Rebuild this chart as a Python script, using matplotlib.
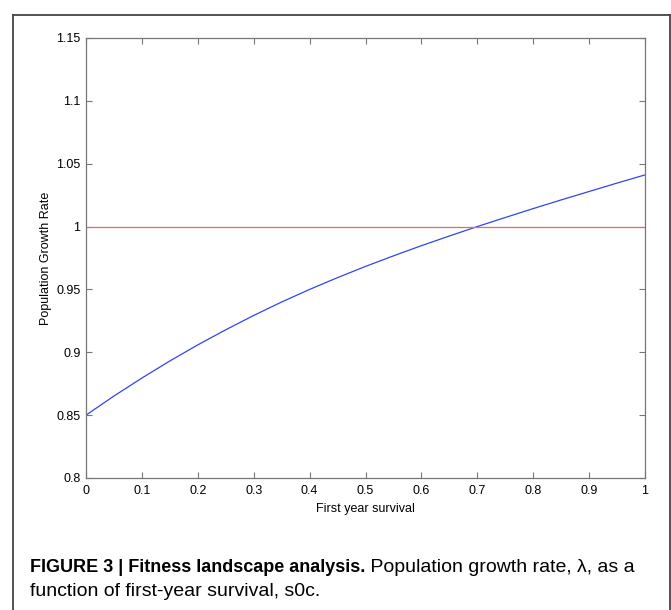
import matplotlib
matplotlib.use("Agg")
import matplotlib.pyplot as plt
from matplotlib.lines import Line2D

# first year survival vs population growth rate
survival = [0.0, 0.05, 0.1, 0.15, 0.2, 0.25, 0.3, 0.35, 0.4, 0.45, 0.5,
            0.55, 0.6, 0.65, 0.7, 0.75, 0.8, 0.85, 0.9, 0.95, 1.0]
growth = [0.8500, 0.8652, 0.8795, 0.8931, 0.9059, 0.9179, 0.9293, 0.9400, 0.9500, 0.9594, 0.9683,
          0.9767, 0.9848, 0.9925, 1.0000, 1.0072, 1.0143, 1.0212, 1.0279, 1.0346, 1.0411]
threshold = 1.0

x_ticks = [0, 0.1, 0.2, 0.3, 0.4, 0.5, 0.6, 0.7, 0.8, 0.9, 1]
x_tick_labels = ['0', '0.1', '0.2', '0.3', '0.4', '0.5', '0.6', '0.7', '0.8', '0.9', '1']
y_ticks = [0.8, 0.85, 0.9, 0.95, 1.0, 1.05, 1.1, 1.15]
y_tick_labels = ['0.8', '0.85', '0.9', '0.95', '1', '1.05', '1.1', '1.15']

caption_bold = 'FIGURE 3 | Fitness landscape analysis.'
caption_rest = ' Population growth rate, λ, as a'
caption_line2 = 'function of first-year survival, s0c.'

plt.rcParams['font.family'] = ['Liberation Sans', 'DejaVu Sans']

W, H = 671, 610
fig = plt.figure(figsize=(W / 100, H / 100), dpi=100)
ax = fig.add_axes([86 / W, 1 - 478 / H, 559 / W, 440 / H])

ax.plot(survival, growth, color='#3344ee', lw=0.9)
ax.plot([0, 1], [threshold, threshold], color='#ee6666', lw=0.9)

ax.set_xlim(0, 1)
ax.set_ylim(0.8, 1.15)
ax.set_xticks(x_ticks)
ax.set_xticklabels(x_tick_labels)
ax.set_yticks(y_ticks)
ax.set_yticklabels(y_tick_labels)
ax.tick_params(direction='in', length=4, width=0.8, color='#777777',
               labelsize=9, top=True, right=True, pad=4)
ax.tick_params(axis='x', pad=5)
for s in ax.spines.values():
    s.set_color('#777777')
    s.set_linewidth(0.9)

ax.set_xlabel('First year survival', fontsize=9)
ax.set_ylabel('Population Growth Rate', fontsize=9)
ax.xaxis.set_label_coords(0.5, (478 - 503) / 440)
ax.yaxis.set_label_coords((52 - 86) / 559, 0.5)

# outer frame (bottom edge runs off the picture)
fx0, fx1, fy = 12.7 / W, 670 / W, 1 - 14.5 / H
for xs, ys in [([fx0, fx0], [-0.1, fy]), ([fx0, fx1], [fy, fy]), ([fx1, fx1], [fy, -0.1])]:
    fig.add_artist(Line2D(xs, ys, transform=fig.transFigure, color='#444444', lw=1.3))

# caption: bold lead-in, then regular text on the same line
y1 = 1 - 572.5 / H
y2 = 1 - 596.5 / H
reg_size = 14
renderer = fig.canvas.get_renderer()
t1 = fig.text(30 / W, y1, caption_bold, fontsize=13, fontweight='bold', va='baseline')
wb = t1.get_window_extent(renderer=renderer).width
t1.set_fontsize(13 * 334 / wb)
bb = t1.get_window_extent(renderer=renderer)
fig.text(bb.x1 / W, y1, caption_rest, fontsize=reg_size, va='baseline')
fig.text(30 / W, y2, caption_line2, fontsize=reg_size, va='baseline')

fig.savefig('out.png', dpi=100)
